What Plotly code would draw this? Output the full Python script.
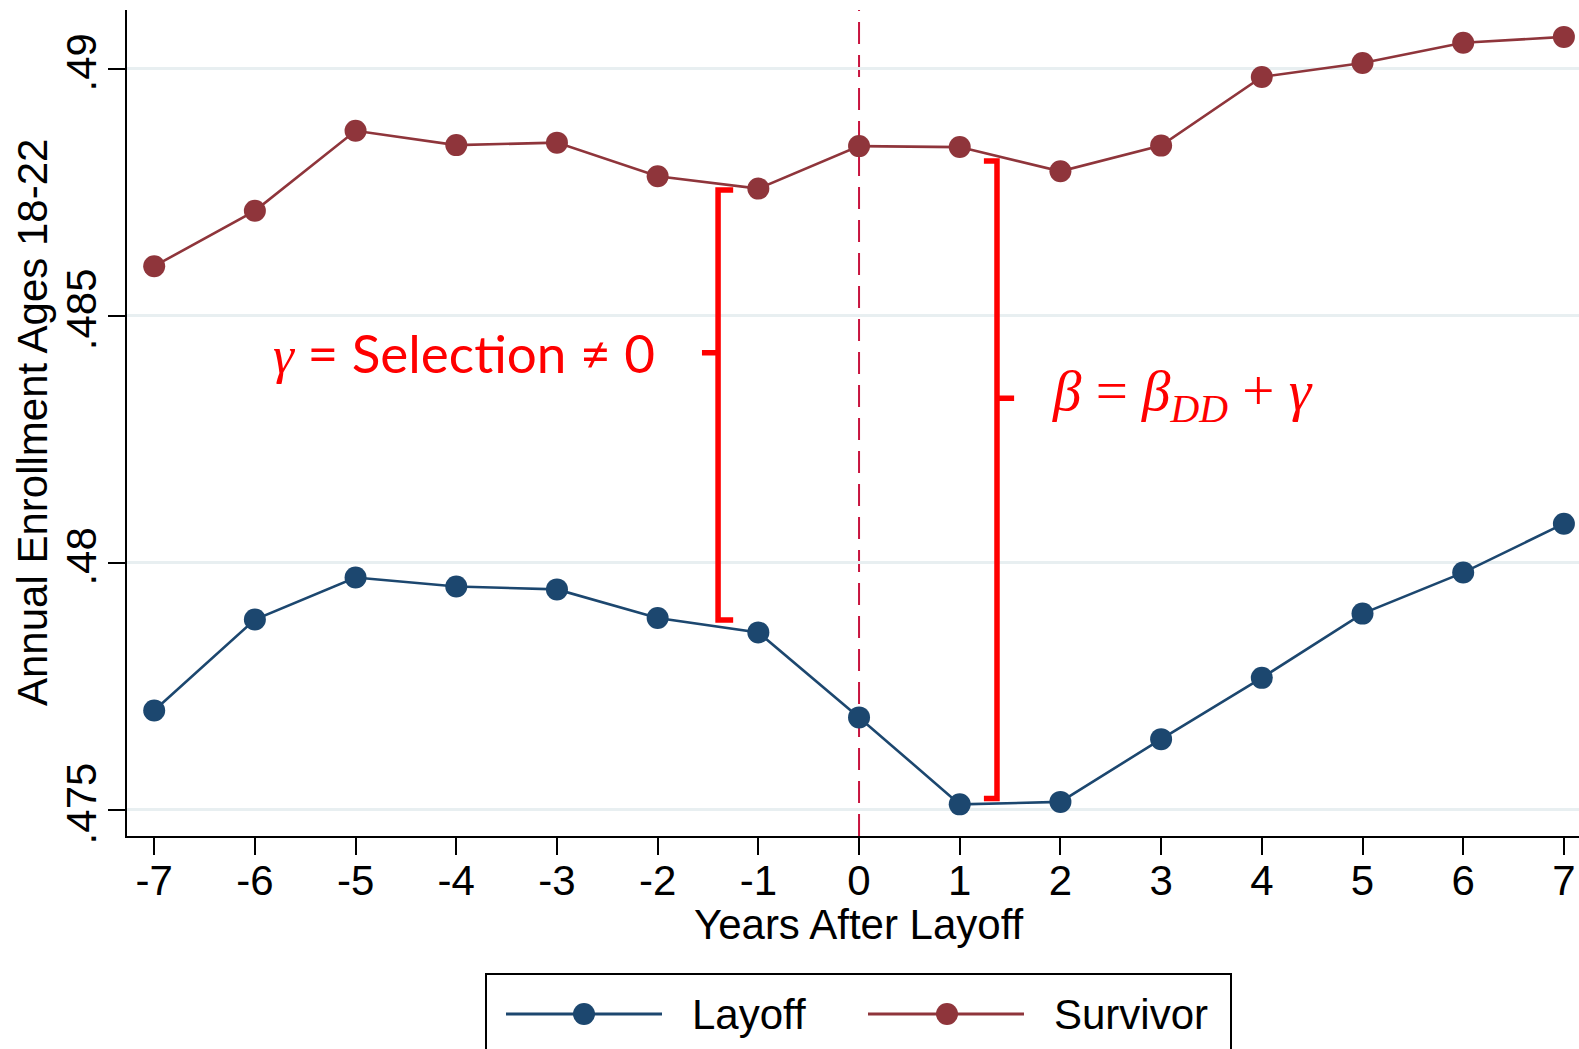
import plotly.graph_objects as go

# ---------------- data ----------------
years = [-7, -6, -5, -4, -3, -2, -1, 0, 1, 2, 3, 4, 5, 6, 7]
layoff = [0.47701, 0.47885, 0.47970, 0.47952, 0.47946, 0.47888, 0.47859,
          0.47687, 0.47511, 0.47516, 0.47643, 0.47767, 0.47897, 0.47980, 0.48079]
survivor = [0.48600, 0.48712, 0.48874, 0.48845, 0.48850, 0.48782, 0.48757,
            0.48843, 0.48841, 0.48792, 0.48844, 0.48983, 0.49011, 0.49052, 0.49064]
y_ticks = [0.475, 0.48, 0.485, 0.49]
y_tick_labels = [".475", ".48", ".485", ".49"]
x_ticks = years
series_names = ["Layoff", "Survivor"]

# ---------------- style ----------------
W, H = 1579, 1049
PL, PR, PT, PB = 127, 1579, 10, 836  # plot area in pixels
LAYOFF_C = "#1c476f"
SURV_C = "#8f353b"
RED = "#ff0000"
SANS = "Liberation Sans, Arial, sans-serif"
SERIF = "Liberation Serif, Times New Roman, serif"


def px(x):
    return (x - PL) / (PR - PL)


def py(y):
    return (PB - y) / (PB - PT)


fig = go.Figure()
for name, vals, col in [(series_names[0], layoff, LAYOFF_C), (series_names[1], survivor, SURV_C)]:
    fig.add_trace(go.Scatter(
        x=years, y=vals, name=name, mode="lines+markers",
        line=dict(color=col, width=2.6),
        marker=dict(color=col, size=22, line=dict(width=0)),
        showlegend=False, cliponaxis=False,
    ))

shapes = []
# vertical dashed reference line at 0
shapes.append(dict(type="line", xref="x", yref="paper", x0=0, x1=0, y0=0, y1=1,
                   line=dict(color="#c8143f", width=2, dash="22px,11px"), layer="below"))

# brackets (annotation geometry)
lb_x, lb_end, lb_tip = -1.40, -1.25, -1.56
lb_top, lb_bot, lb_mid = 0.48754, 0.47884, 0.48425
rb_x, rb_end, rb_tip = 1.37, 1.24, 1.54
rb_top, rb_bot, rb_mid = 0.48813, 0.47523, 0.48333
shapes.append(dict(type="path", xref="x", yref="y",
                   path=f"M {lb_end} {lb_top} L {lb_x} {lb_top} L {lb_x} {lb_bot} L {lb_end} {lb_bot} "
                        f"M {lb_x} {lb_mid} L {lb_tip} {lb_mid}",
                   line=dict(color=RED, width=5.5)))
shapes.append(dict(type="path", xref="x", yref="y",
                   path=f"M {rb_end} {rb_top} L {rb_x} {rb_top} L {rb_x} {rb_bot} L {rb_end} {rb_bot} "
                        f"M {rb_x} {rb_mid} L {rb_tip} {rb_mid}",
                   line=dict(color=RED, width=5.5)))

# manual legend
shapes.append(dict(type="rect", xref="paper", yref="paper",
                   x0=px(486), x1=px(1231), y0=py(1080), y1=py(974),
                   line=dict(color="black", width=2), fillcolor="white"))
legend_items = [(series_names[0], LAYOFF_C, 506, 662, 584, 690),
                (series_names[1], SURV_C, 868, 1024, 947, 1052)]
annotations = []
for name, col, lx0, lx1, mx, tx in legend_items:
    shapes.append(dict(type="line", xref="paper", yref="paper", x0=px(lx0), x1=px(lx1),
                       y0=py(1014), y1=py(1014), line=dict(color=col, width=3)))
    shapes.append(dict(type="circle", xref="paper", yref="paper", xsizemode="pixel", ysizemode="pixel",
                       xanchor=px(mx), yanchor=py(1014), x0=-11, x1=11, y0=-11, y1=11,
                       fillcolor=col, line=dict(width=0)))
    annotations.append(dict(xref="paper", yref="paper", x=px(tx), y=py(1014), text=name,
                            showarrow=False, xanchor="left", yanchor="middle",
                            font=dict(family=SANS, size=42, color="black")))

# axis titles
annotations.append(dict(xref="paper", yref="paper", x=px(859), y=py(925), text="Years After Layoff",
                        showarrow=False, xanchor="center", yanchor="middle",
                        font=dict(family=SANS, size=42, color="black")))
annotations.append(dict(xref="paper", yref="paper", x=px(32), y=py(423), text="Annual Enrollment Ages 18-22",
                        showarrow=False, xanchor="center", yanchor="middle", textangle=-90,
                        font=dict(family=SANS, size=42, color="black")))

# red labels
annotations.append(dict(xref="x", yref="y", x=-3.92, y=0.48426,
                        text="<span style='font-family:Liberation Serif'><i>γ</i></span> = Selection ≠ 0",
                        showarrow=False, xanchor="center", yanchor="middle",
                        font=dict(family="Lato, Carlito, sans-serif", size=53, color=RED)))
annotations.append(dict(xref="x", yref="y", x=1.90, y=0.48339,
                        text="<i>β</i>\u00a0=\u00a0<i>β</i><sub><i>DD</i></sub>\u00a0+\u00a0<i>γ</i>",
                        showarrow=False, xanchor="left", yanchor="middle",
                        font=dict(family=SERIF, size=57, color=RED)))

fig.update_layout(
    width=W, height=H,
    margin=dict(l=PL, r=W - PR, t=PT, b=H - PB, autoexpand=False),
    paper_bgcolor="white", plot_bgcolor="white",
    shapes=shapes, annotations=annotations,
    showlegend=False,
    xaxis=dict(range=[-7.27, 7.15], tickvals=x_ticks, ticktext=[str(v) for v in x_ticks],
               showgrid=False, zeroline=False, showline=True, linecolor="black", linewidth=2,
               ticks="outside", ticklen=17, tickwidth=2, tickcolor="black",
               ticklabelstandoff=-10,
               tickfont=dict(family=SANS, size=42, color="black")),
    yaxis=dict(range=[0.47447, 0.491184], tickvals=y_ticks, ticktext=y_tick_labels,
               showgrid=True, gridcolor="#e8eff1", gridwidth=2.5, zeroline=False,
               showline=True, linecolor="black", linewidth=2,
               ticks="outside", ticklen=17, tickwidth=2, tickcolor="black", tickangle=-90,
               ticklabelstandoff=-5,
               tickfont=dict(family=SANS, size=42, color="black")),
)

fig.write_html("out.html", config={"displayModeBar": False},
               post_script="document.body.style.margin='0';document.body.style.overflow='hidden';")
